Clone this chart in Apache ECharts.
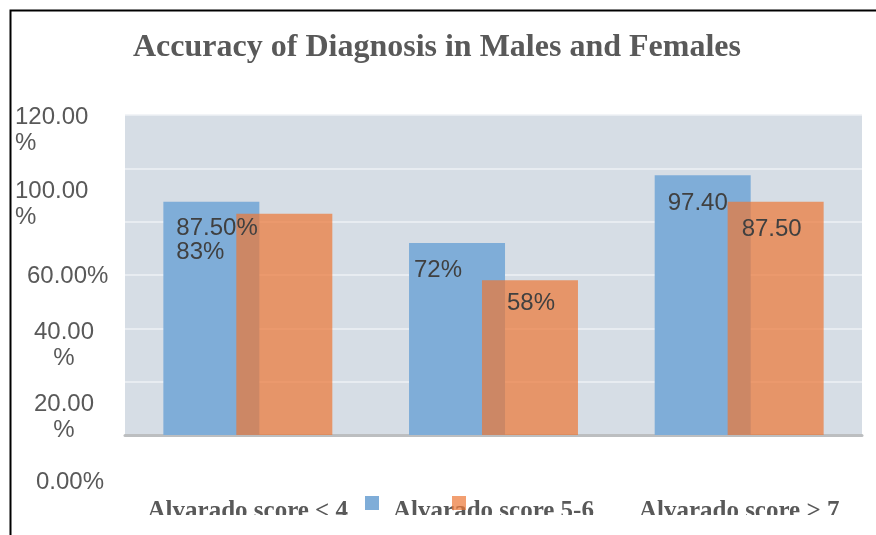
<!DOCTYPE html>
<html>
<head>
<meta charset="utf-8">
<style>html,body{margin:0;padding:0;background:#fff}#c{width:876px;height:535px}</style>
<script src="https://cdn.jsdelivr.net/npm/echarts@6/dist/echarts.min.js"></script>
</head>
<body>
<div id="c"></div>
<script>
const titleText = 'Accuracy of Diagnosis in Males and Females';
const categories = ['Alvarado score < 4', 'Alvarado score 5-6', 'Alvarado score > 7'];
const seriesNames = ['Males', 'Females'];
const maleValues = [87.5, 72, 97.4];
const femaleValues = [83, 58, 87.5];
const maleLabels = ['87.50%', '72%', '97.40'];
const femaleLabels = ['83%', '58%', '87.50'];
const yTickLabels = ['120.00\n%', '100.00\n%', '60.00%', '40.00\n%', '20.00\n%', '0.00%'];

// layout (not data)
const maleLabelPos = [[13, 15], [5, 15], [13, 16]];
const femaleLabelPos = [[-60, 27], [25, 11], [14, 16]];
const yTickLayout = [
  {x: 15, y: 104, align: 'left'},
  {x: 15, y: 178, align: 'left'},
  {x: 27, y: 263, align: 'left'},
  {x: 64, y: 319, align: 'center'},
  {x: 64, y: 391, align: 'center'},
  {x: 36, y: 469, align: 'left'}
];

const chart = echarts.init(document.getElementById('c'), null, {renderer: 'canvas'});
const labelFont = {fontFamily: 'Liberation Sans', fontSize: 24, color: '#404040'};

const graphics = [
  {type: 'rect', shape: {x: 10.5, y: 10.5, width: 900, height: 600}, style: {fill: null, stroke: '#000', lineWidth: 2}, z: 100},
  {type: 'rect', shape: {x: 12, y: 515, width: 870, height: 25}, style: {fill: '#fff'}, z: 99}
];
yTickLabels.forEach((t, i) => {
  const L = yTickLayout[i];
  graphics.push({type: 'text', x: L.x, y: L.y, z: 50, style: {text: t, fill: '#595959', font: '24px "Liberation Sans"', align: L.align, verticalAlign: 'top', lineHeight: 26}});
});

chart.setOption({
  animation: false,
  backgroundColor: '#fff',
  title: {text: titleText, left: 128, top: 27, textStyle: {fontFamily: 'Liberation Serif', fontWeight: 'bold', fontSize: 32, color: '#595959'}},
  legend: {
    data: seriesNames, left: 360, top: 491, itemWidth: 14, itemHeight: 14, itemGap: 73, icon: 'rect',
    formatter: () => '', textStyle: {fontSize: 1}
  },
  grid: {left: 125, right: 14, top: 115, bottom: 100, show: true, backgroundColor: '#d6dde5', borderWidth: 0, containLabel: false, outerBoundsMode: 'none'},
  xAxis: {
    type: 'category', data: categories,
    axisTick: {show: false},
    axisLine: {lineStyle: {color: '#bcbec0', width: 3}},
    axisLabel: {margin: 64, fontFamily: 'Liberation Serif', fontWeight: 'bold', fontSize: 25, color: '#595959', interval: 0}
  },
  yAxis: {
    type: 'value', min: 0, max: 120, interval: 20,
    axisLabel: {show: false}, axisLine: {show: false}, axisTick: {show: false},
    splitLine: {lineStyle: {color: '#eef1f4', width: 1.5}}
  },
  series: [
    {
      name: seriesNames[0], type: 'bar', barWidth: 96, barGap: '-24%',
      itemStyle: {color: '#7fadd8'},
      data: maleValues.map((v, i) => ({value: v, label: {position: maleLabelPos[i]}})),
      label: Object.assign({show: true, formatter: p => maleLabels[p.dataIndex], align: 'left', verticalAlign: 'top'}, labelFont)
    },
    {
      name: seriesNames[1], type: 'bar', barWidth: 96,
      itemStyle: {color: 'rgba(237,118,53,0.7)'},
      data: femaleValues.map((v, i) => ({value: v, label: {position: femaleLabelPos[i]}})),
      label: Object.assign({show: true, formatter: p => femaleLabels[p.dataIndex], align: 'left', verticalAlign: 'top'}, labelFont)
    }
  ],
  graphic: graphics
});
</script>
</body>
</html>
